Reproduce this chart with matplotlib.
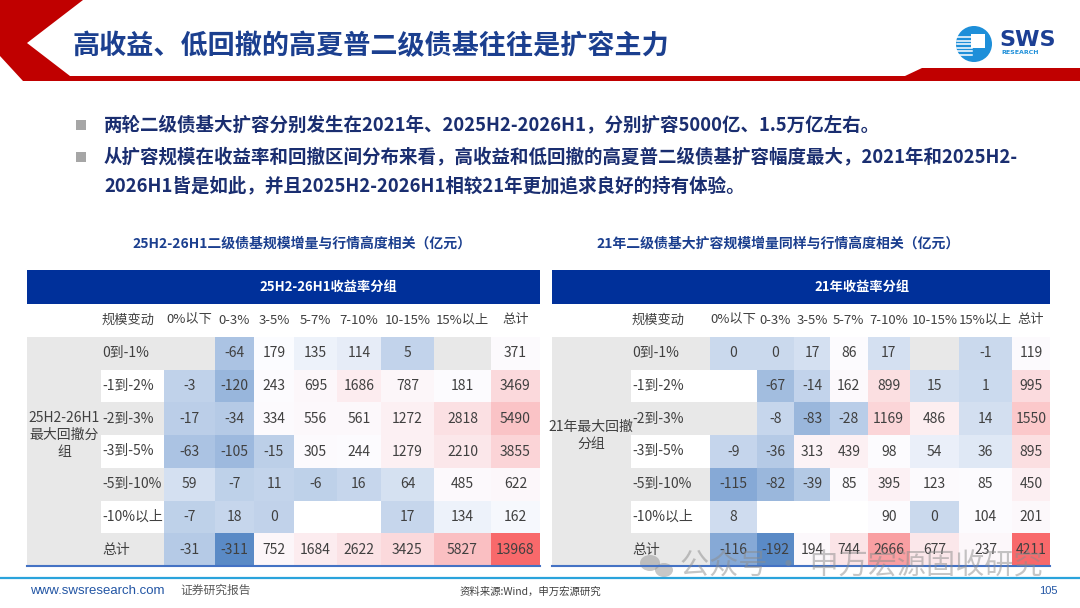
import numpy as np
import matplotlib
matplotlib.use('Agg')
import matplotlib.pyplot as plt
from matplotlib.colors import LinearSegmentedColormap, TwoSlopeNorm
from matplotlib.patches import Polygon, Rectangle, Circle, Ellipse

plt.rcParams['font.family'] = ['Noto Sans CJK SC', 'DejaVu Sans']

title = '高收益、低回撤的高夏普二级债基往往是扩容主力'
bullet1 = '两轮二级债基大扩容分别发生在2021年、2025H2-2026H1，分别扩容5000亿、1.5万亿左右。'
bullet2a = '从扩容规模在收益率和回撤区间分布来看，高收益和低回撤的高夏普二级债基扩容幅度最大，2021年和2025H2-'
bullet2b = '2026H1皆是如此，并且2025H2-2026H1相较21年更加追求良好的持有体验。'

yield_cols = ['0%以下', '0-3%', '3-5%', '5-7%', '7-10%', '10-15%', '15%以上', '总计']
dd_rows = ['0到-1%', '-1到-2%', '-2到-3%', '-3到-5%', '-5到-10%', '-10%以上', '总计']

nan = np.nan
# 25H2-26H1 (亿元)
vals_2526 = [
    [nan, -64, 179, 135, 114, 5, nan, 371],
    [-3, -120, 243, 695, 1686, 787, 181, 3469],
    [-17, -34, 334, 556, 561, 1272, 2818, 5490],
    [-63, -105, -15, 305, 244, 1279, 2210, 3855],
    [59, -7, 11, -6, 16, 64, 485, 622],
    [-7, 18, 0, nan, nan, 17, 134, 162],
    [-31, -311, 752, 1684, 2622, 3425, 5827, 13968],
]
# 2021 (亿元)
vals_21 = [
    [0, 0, 17, 86, 17, nan, -1, 119],
    [nan, -67, -14, 162, 899, 15, 1, 995],
    [nan, -8, -83, -28, 1169, 486, 14, 1550],
    [-9, -36, 313, 439, 98, 54, 36, 895],
    [-115, -82, -39, 85, 395, 123, 85, 450],
    [8, nan, nan, nan, 90, 0, 104, 201],
    [-116, -192, 194, 744, 2666, 677, 237, 4211],
]

NAVY = '#00309A'
TXT = '#404040'
GRAY = '#E8E8E8'
cmap = LinearSegmentedColormap.from_list('bwr_xl', ['#5A8AC6', '#FCFCFF', '#F8696B'])

fig = plt.figure(figsize=(10.8, 6.08), dpi=100)
ax = fig.add_axes([0, 0, 1, 1])
ax.set_xlim(0, 1080)
ax.set_ylim(608, 0)
ax.axis('off')

# header decoration
ax.add_patch(Polygon([(0, 0), (83, 0), (27, 43), (70, 76), (905, 76), (922, 68),
                      (1080, 68), (1080, 81), (23, 81), (0, 56)],
                     closed=True, color='#C00000', lw=0))
ax.text(73, 46, title, fontsize=19.5, fontweight='bold', color='#1B3F8F', va='center')

# logo
ax.add_patch(Circle((974, 44), 18, color='#1E8FD9', lw=0))
for k in range(6):
    ax.plot([957, 972], [37 + k * 3.5, 37 + k * 3.5], color='white', lw=1.1)
ax.add_patch(Rectangle((971, 34), 14, 14, color='white', lw=0))
ax.text(999, 40, 'SWS', fontsize=16, fontweight='bold', color='#1C3F94', va='center',
        family=['DejaVu Sans'])
ax.text(1001, 52, 'RESEARCH', fontsize=4.5, fontweight='bold', color='#1E8FD9', va='center',
        family=['DejaVu Sans'])

# bullets
for y, txt in [(125, bullet1), (157, bullet2a), (186, bullet2b)]:
    ax.text(104, y, txt, fontsize=13.3, fontweight='bold', color='#1A2E70', va='center')
for y in (125, 157):
    ax.add_patch(Rectangle((76, y - 5), 10, 10, color='#A6A6A6', lw=0))


def draw_table(vals, xedges, x0, group_lines, group_x, head_text, head_x, sub_text, sub_x):
    vals = np.array(vals, dtype=float)
    yedges = np.linspace(337, 566, len(dd_rows) + 1)
    x1 = xedges[-1]
    ax.text(sub_x, 244, sub_text, fontsize=10, fontweight='bold', color='#1B3F8F',
            ha='center', va='center')
    ax.add_patch(Rectangle((x0, 270), x1 - x0, 34, color=NAVY, lw=0))
    ax.text(head_x, 287, head_text, fontsize=9.5, fontweight='bold', color='white',
            ha='center', va='center')
    # banded backgrounds
    ax.add_patch(Rectangle((x0, yedges[0]), group_x[1] - x0, yedges[-1] - yedges[0],
                           color=GRAY, lw=0))
    for i in range(len(dd_rows)):
        if i % 2 == 0:
            ax.add_patch(Rectangle((group_x[1], yedges[i]), x1 - group_x[1],
                                   yedges[i + 1] - yedges[i], color=GRAY, lw=0))
    # heat cells, 3-colour scale with the median as midpoint
    med = np.nanmedian(vals)
    norm = TwoSlopeNorm(vmin=np.nanmin(vals), vcenter=med, vmax=np.nanmax(vals))
    ax.pcolormesh(xedges, yedges, np.ma.masked_invalid(vals), cmap=cmap, norm=norm,
                  shading='flat')
    # header row
    ax.text(group_x[1] + 1, 320, '规模变动', fontsize=9.5, color=TXT, va='center')
    for j, c in enumerate(yield_cols):
        ax.text((xedges[j] + xedges[j + 1]) / 2, 320, c, fontsize=9.5, color=TXT,
                ha='center', va='center')
    for i, r in enumerate(dd_rows):
        yc = (yedges[i] + yedges[i + 1]) / 2
        ax.text(group_x[1] + 1, yc, r, fontsize=10, color=TXT, va='center')
        for j in range(len(yield_cols)):
            v = vals[i, j]
            if not np.isnan(v):
                ax.text((xedges[j] + xedges[j + 1]) / 2, yc, f'{int(v)}', fontsize=10,
                        color=TXT, ha='center', va='center')
    gy = 435 - (len(group_lines) - 1) * 8.5
    for k, line in enumerate(group_lines):
        ax.text(group_x[0], gy + k * 17, line, fontsize=10, color=TXT, ha='center',
                va='center')
    ax.plot([x0, x1], [566, 566], color='#4472C4', lw=1.5)


draw_table(vals_2526, [164, 215, 254, 294, 337, 381, 434, 491, 540], 27,
           ['25H2-26H1', '最大回撤分', '组'], (64, 101),
           '25H2-26H1收益率分组', 328,
           '25H2-26H1二级债基规模增量与行情高度相关（亿元）', 302)
draw_table(vals_21, [710, 757, 794, 830, 867.5, 910, 959, 1012, 1050], 552,
           ['21年最大回撤', '分组'], (591, 631),
           '21年收益率分组', 862,
           '21年二级债基大扩容规模增量同样与行情高度相关（亿元）', 778)

# watermark
ax.add_patch(Ellipse((650, 563), 20, 16, color='#9A9A9A', alpha=0.55, lw=0))
ax.add_patch(Ellipse((664, 570), 18, 14, color='#9A9A9A', alpha=0.55, lw=0))
ax.text(680, 567, '公众号 · 申万宏源固收研究', fontsize=21, color='#8C8C8C', alpha=0.5,
        va='center')

# footer
ax.plot([0, 1080], [578, 578], color='#2AA3DB', lw=1.6)
ax.text(30, 591, 'www.swsresearch.com', fontsize=9.5, color='#2255A4', va='center',
        family=['Liberation Sans', 'DejaVu Sans'])
ax.text(180, 590, '证券研究报告', fontsize=8.5, color='#595959', va='center')
ax.text(530, 592, '资料来源:Wind，申万宏源研究', fontsize=7.5, color='#404040',
        ha='center', va='center')
ax.text(1048, 591, '105', fontsize=8, color='#2255A4', ha='center', va='center',
        family=['Liberation Sans', 'DejaVu Sans'])

fig.savefig('out.png', dpi=100)
